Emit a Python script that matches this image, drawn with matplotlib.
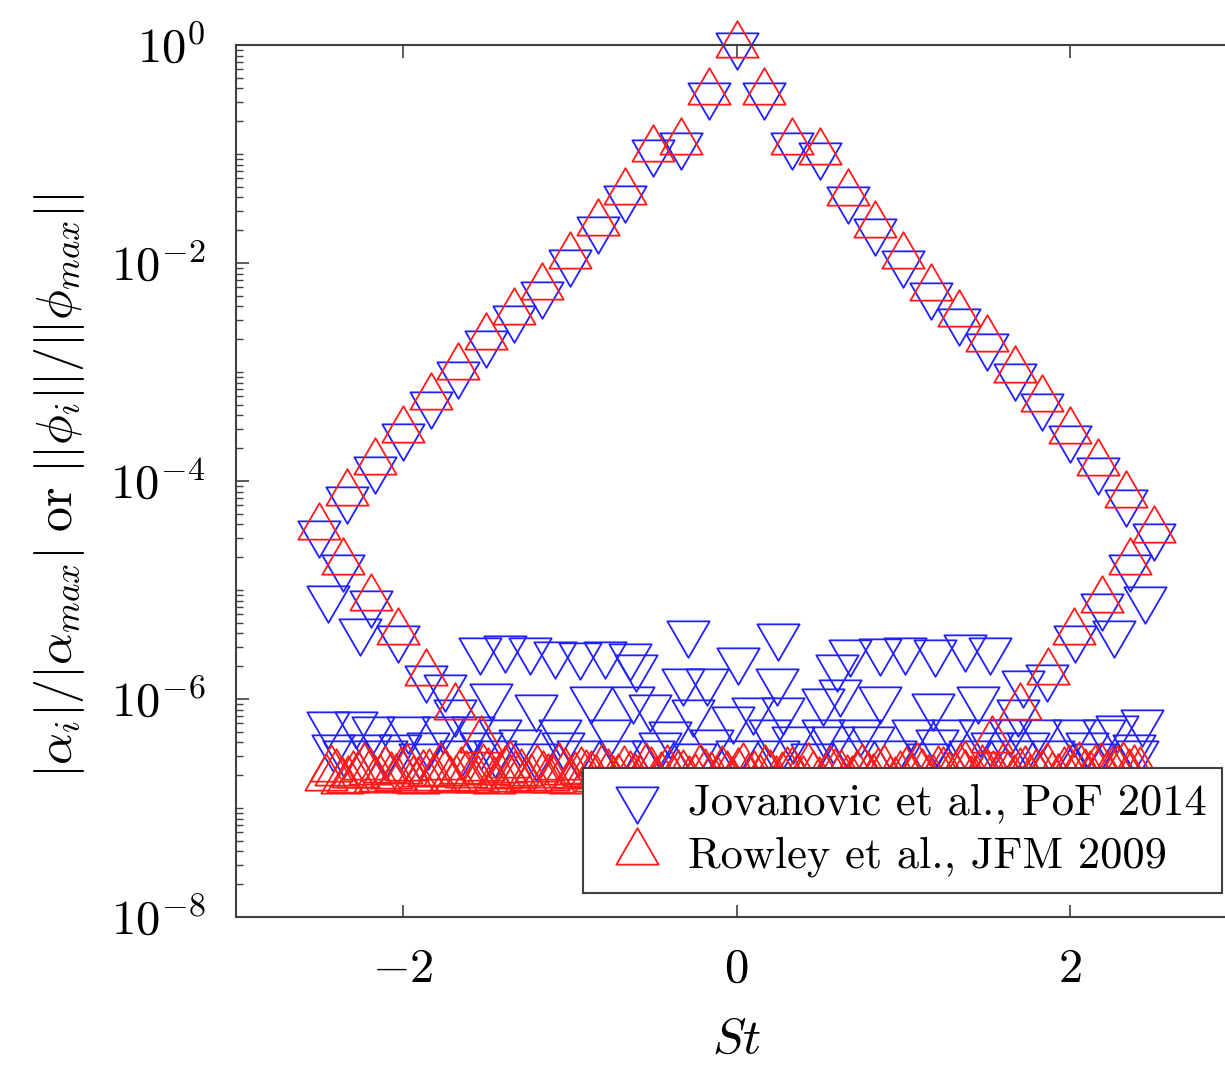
import matplotlib
matplotlib.use('Agg')
import matplotlib.pyplot as plt
from matplotlib.path import Path
from matplotlib.ticker import LogLocator, NullFormatter
import numpy as np

plt.rcParams['mathtext.fontset'] = 'cm'
plt.rcParams['font.family'] = 'serif'
plt.rcParams['font.serif'] = ['cmr10', 'DejaVu Serif']
plt.rcParams['axes.unicode_minus'] = False

# harmonics of the shedding frequency (same St for both data sets)
st_main = [-2.5, -2.333, -2.167, -2.0, -1.833, -1.667, -1.5, -1.333, -1.167, -1.0,
           -0.833, -0.667, -0.5, -0.333, -0.167, 0.0, 0.167, 0.333, 0.5, 0.667,
           0.833, 1.0, 1.167, 1.333, 1.5, 1.667, 1.833, 2.0, 2.167, 2.333, 2.5]
amp_main_rowley = [3.8e-5, 7.8e-5, 1.48e-4, 2.95e-4, 5.9e-4, 1.1e-3, 2.1e-3, 3.55e-3, 6.0e-3, 1.17e-2,
                   2.34e-2, 4.5e-2, 0.112, 0.129, 0.37, 1.0, 0.37, 0.129, 0.105, 0.044,
                   0.0224, 1.15e-2, 5.9e-3, 3.4e-3, 2.0e-3, 1.05e-3, 5.6e-4, 2.9e-4, 1.45e-4, 7.4e-5, 3.55e-5]
amp_main_jov = [3.3e-5, 6.8e-5, 1.29e-4, 2.57e-4, 5.1e-4, 9.6e-4, 1.83e-3, 3.1e-3, 5.2e-3, 1.02e-2,
                2.05e-2, 3.95e-2, 0.105, 0.121, 0.35, 1.0, 0.35, 0.121, 0.098, 0.039,
                0.0196, 1.0e-2, 5.1e-3, 2.95e-3, 1.74e-3, 9.1e-4, 4.9e-4, 2.5e-4, 1.26e-4, 6.4e-5, 3.1e-5]

# aliased (folded) harmonics
st_fold_rowley = [-2.36, -2.19, -2.03, -1.86, -1.69, -1.53, -1.36, 1.37, 1.53, 1.70, 1.87, 2.02, 2.19, 2.36]
amp_fold_rowley = [1.82e-5, 8.5e-6, 4.1e-6, 1.74e-6, 8.5e-7, 4.2e-7, 2.5e-7,
                   2.5e-7, 4.2e-7, 8.5e-7, 1.78e-6, 4.1e-6, 8.1e-6, 1.82e-5]
st_fold_jov = [-2.45, -2.36, -2.26, -2.19, -2.03, -1.86, -1.69, -1.53,
               1.53, 1.69, 1.86, 2.03, 2.19, 2.26, 2.36, 2.45]
amp_fold_jov = [8.5e-6, 1.62e-5, 4.2e-6, 7.6e-6, 3.6e-6, 1.55e-6, 7.6e-7, 3.8e-7,
                3.8e-7, 7.6e-7, 1.58e-6, 3.6e-6, 7.2e-6, 4.0e-6, 1.62e-5, 8.3e-6]

# low-amplitude modes
st_noise_jov = [-1.54, -1.39, -1.24, -1.09, -0.94, -0.79, -0.64, -0.29, 0.25, 0.68, 0.86, 1.01, 1.19, 1.37, 1.52,
                -0.60, -0.32, -0.18, 0.01, 0.24, 0.60, -1.75, 1.72,
                -1.47, -1.20, -0.87, -0.62, -0.52, -0.26, -0.02, 0.10, 0.28, 0.52, 0.62, 0.86, 1.18, 1.45,
                -2.45, -2.28, -2.18, -1.97, -1.76, -1.58, -1.42, -1.06, -0.76, -0.40, 0.20,
                0.52, 0.74, 1.06, 1.30, 1.46, 1.64, 1.82, 2.02, 2.20, 2.28, 2.43,
                -2.42, -2.20, -2.02, -1.85, -1.30, -1.04, -0.46, -0.15, 0.34, 0.58, 0.82, 1.20, 1.75, 2.10, 2.38,
                -2.35, -2.10, -1.90, -1.65, -1.45, -1.20, -0.95, -0.70, -0.50, -0.25, 0.00,
                0.25, 0.45, 0.70, 0.95, 1.15, 1.40, 1.65, 1.90, 2.15, 2.40]
amp_noise_jov = [2.8e-6, 2.95e-6, 2.8e-6, 2.6e-6, 2.55e-6, 2.6e-6, 2.5e-6, 4.0e-6, 3.8e-6, 2.7e-6, 2.75e-6, 2.8e-6, 2.7e-6, 3.0e-6, 2.8e-6,
                 1.95e-6, 1.45e-6, 1.45e-6, 2.3e-6, 1.45e-6, 1.95e-6, 1.3e-6, 1.4e-6,
                 1.07e-6, 8.5e-7, 1.0e-6, 1.0e-6, 8.5e-7, 7.6e-7, 6.6e-7, 7.9e-7, 7.9e-7, 9.5e-7, 1.17e-6, 1.0e-6, 8.7e-7, 1.0e-6,
                 5.9e-7, 5.9e-7, 5.25e-7, 5.25e-7, 5.25e-7, 5.25e-7, 5.0e-7, 5.0e-7, 5.0e-7, 4.8e-7, 5.0e-7,
                 5.0e-7, 5.0e-7, 5.0e-7, 5.0e-7, 5.0e-7, 5.0e-7, 5.0e-7, 5.0e-7, 5.0e-7, 5.4e-7, 6.2e-7,
                 3.6e-7, 3.6e-7, 3.6e-7, 3.8e-7, 4.0e-7, 3.8e-7, 3.8e-7, 4.0e-7, 4.3e-7, 4.3e-7, 4.3e-7, 4.0e-7, 3.8e-7, 3.8e-7, 3.6e-7,
                 3.16e-7, 3.16e-7, 3.0e-7, 3.16e-7, 3.16e-7, 3.0e-7, 3.16e-7, 3.16e-7, 3.16e-7, 3.0e-7, 3.16e-7,
                 3.16e-7, 3.0e-7, 3.16e-7, 3.16e-7, 3.0e-7, 3.16e-7, 3.16e-7, 3.16e-7, 3.0e-7, 3.16e-7]

st_noise_rowley = [-2.46, -2.40, -2.33, -2.27, -2.20, -2.14, -2.07, -2.01, -1.94, -1.88,
                   -1.81, -1.75, -1.68, -1.62, -1.55, -1.49, -1.42, -1.36, -1.29, -1.23,
                   -1.16, -1.10, -1.03, -0.97, -0.90, -0.84, -0.77, -0.71, -0.64, -0.58,
                   -0.51, -0.45, -0.38, -0.32, -0.25, -0.19, -0.12, -0.06, 0.01, 0.07,
                   0.14, 0.20, 0.27, 0.33, 0.40, 0.46, 0.53, 0.59, 0.66, 0.72,
                   0.79, 0.85, 0.92, 0.98, 1.05, 1.11, 1.18, 1.24, 1.31, 1.37,
                   1.44, 1.50, 1.57, 1.63, 1.70, 1.76, 1.83, 1.89, 1.96, 2.02,
                   2.09, 2.15, 2.22, 2.28, 2.35, 2.42]
amp_noise_rowley = [1.9e-7, 2.1e-7, 1.8e-7, 2.0e-7, 2.15e-7, 1.85e-7, 1.95e-7, 2.2e-7, 1.8e-7, 2.05e-7,
                    1.9e-7, 2.1e-7, 1.85e-7, 2.0e-7, 1.8e-7, 2.15e-7, 1.95e-7, 1.85e-7, 2.1e-7, 1.9e-7,
                    2.0e-7, 1.8e-7, 2.15e-7, 1.95e-7, 2.05e-7, 1.85e-7, 2.1e-7, 1.9e-7, 2.0e-7, 1.8e-7,
                    2.2e-7, 1.95e-7, 1.85e-7, 2.05e-7, 1.9e-7, 2.1e-7, 1.8e-7, 2.0e-7, 2.15e-7, 1.9e-7,
                    1.85e-7, 2.05e-7, 1.95e-7, 2.2e-7, 1.8e-7, 2.0e-7, 1.9e-7, 2.1e-7, 1.85e-7, 2.05e-7,
                    1.95e-7, 2.15e-7, 1.8e-7, 2.0e-7, 1.9e-7, 2.1e-7, 1.85e-7, 2.2e-7, 1.95e-7, 2.05e-7,
                    1.8e-7, 2.1e-7, 1.9e-7, 2.0e-7, 2.15e-7, 1.85e-7, 2.05e-7, 1.95e-7, 2.2e-7, 1.9e-7,
                    2.1e-7, 2.3e-7, 2.0e-7, 2.25e-7, 2.1e-7, 2.2e-7]
st_noise_rowley2 = [-2.43, -2.365, -2.30, -2.235, -2.17, -2.105, -2.04, -1.975, -1.91, -1.845,
                    -1.78, -1.715, -1.65, -1.585, -1.52, -1.455, -1.39, -1.325, -1.26, -1.195,
                    -1.13, -1.065, -1.0, -0.935, -0.87, -0.805, -0.74, -0.675, -0.61, -0.545,
                    -0.48, -0.415, -0.35, -0.285, -0.22, -0.155, -0.09, -0.025, 0.04, 0.105,
                    0.17, 0.235, 0.30, 0.365, 0.43, 0.495, 0.56, 0.625, 0.69, 0.755,
                    0.82, 0.885, 0.95, 1.015, 1.08, 1.145, 1.21, 1.275, 1.34, 1.405,
                    1.47, 1.535, 1.60, 1.665, 1.73, 1.795, 1.86, 1.925, 1.99, 2.055,
                    2.12, 2.185, 2.25, 2.315, 2.385]
amp_noise_rowley2 = [2.3e-7, 1.75e-7, 2.0e-7, 2.4e-7, 1.8e-7, 2.25e-7, 1.9e-7, 2.35e-7, 1.75e-7, 2.1e-7,
                     2.4e-7, 1.8e-7, 2.2e-7, 1.9e-7, 2.35e-7, 1.75e-7, 2.25e-7, 2.0e-7, 1.8e-7, 2.3e-7,
                     1.9e-7, 2.4e-7, 1.75e-7, 2.2e-7, 2.0e-7, 2.35e-7, 1.8e-7, 2.25e-7, 1.9e-7, 2.4e-7,
                     1.75e-7, 2.3e-7, 2.05e-7, 1.8e-7, 2.35e-7, 1.95e-7, 2.25e-7, 1.75e-7, 2.4e-7, 2.0e-7,
                     2.3e-7, 1.8e-7, 2.2e-7, 1.9e-7, 2.4e-7, 1.75e-7, 2.25e-7, 2.05e-7, 1.8e-7, 2.35e-7,
                     1.9e-7, 2.3e-7, 1.75e-7, 2.2e-7, 2.4e-7, 1.85e-7, 2.25e-7, 1.95e-7, 2.35e-7, 1.8e-7,
                     2.3e-7, 2.0e-7, 2.4e-7, 1.85e-7, 2.25e-7, 2.1e-7, 2.4e-7, 1.9e-7, 2.3e-7, 2.45e-7,
                     2.0e-7, 2.4e-7, 2.2e-7, 2.45e-7, 2.3e-7]

labels = ['Jovanovic et al., PoF 2014', 'Rowley et al., JFM 2009']
ytick_vals = [1e-8, 1e-6, 1e-4, 1e-2, 1e0]
ytick_labels = [r'$10^{-8}$', r'$10^{-6}$', r'$10^{-4}$', r'$10^{-2}$', r'$10^{0}$']
xtick_vals = [-2, 0, 2]
xtick_labels = [r'$-2$', r'$0$', r'$2$']

# MATLAB-style triangles centred on their centroid
tri_up = Path([(0, 1), (-0.87, -0.5), (0.87, -0.5), (0, 1)],
              [Path.MOVETO, Path.LINETO, Path.LINETO, Path.CLOSEPOLY])
tri_down = Path([(0, -1), (-0.87, 0.5), (0.87, 0.5), (0, -1)],
                [Path.MOVETO, Path.LINETO, Path.LINETO, Path.CLOSEPOLY])

jov_st = np.concatenate([st_main, st_fold_jov, st_noise_jov])
jov_amp = np.concatenate([amp_main_jov, amp_fold_jov, amp_noise_jov])
row_st = np.concatenate([st_main, st_fold_rowley, st_noise_rowley, st_noise_rowley2])
row_amp = np.concatenate([amp_main_rowley, amp_fold_rowley, amp_noise_rowley, amp_noise_rowley2])

fig = plt.figure(figsize=(12.25, 10.65), dpi=100)
ax = fig.add_axes([0.1927, 0.139, 0.8171, 0.8188])

ms = 35
ax.plot(jov_st, jov_amp, linestyle='none', marker=tri_down, ms=ms, mfc='none',
        mec='#2020ff', mew=1.3, clip_on=False, label=labels[0])
ax.plot(row_st, row_amp, linestyle='none', marker=tri_up, ms=ms, mfc='none',
        mec='#ff1a1a', mew=1.3, clip_on=False, label=labels[1])

ax.set_yscale('log')
ax.set_xlim(-3, 3)
ax.set_ylim(1e-8, 1)
ax.set_yticks(ytick_vals, ytick_labels)
ax.yaxis.set_minor_locator(LogLocator(base=10, subs=np.arange(1, 10), numticks=100))
ax.yaxis.set_minor_formatter(NullFormatter())
ax.set_xticks(xtick_vals, xtick_labels)

spine_col = '#404040'
for s in ax.spines.values():
    s.set_color(spine_col)
    s.set_linewidth(1.5)
ax.tick_params(which='both', direction='in', top=True, right=True, color=spine_col)
ax.tick_params(which='major', length=9, width=1.2, labelsize=35)
ax.tick_params(which='minor', length=5, width=1.0)
ax.tick_params(axis='x', pad=22)
ax.tick_params(axis='y', pad=22)

ax.set_xlabel(r'$St$', fontsize=36, va='center')
ax.xaxis.set_label_coords(0.5, -0.141)
ax.set_ylabel(r'$|\alpha_i|/|\alpha_{max}|\ \mathrm{or}\ ||\phi_i||/||\phi_{max}||$',
              fontsize=36, va='center')
ax.yaxis.set_label_coords(-0.176, 0.495)

leg = ax.legend(loc='lower right', bbox_to_anchor=(0.985, 0.0275), borderaxespad=0,
                fontsize=32, fancybox=False, framealpha=1, edgecolor=spine_col,
                handlelength=1.7, handletextpad=0.3, borderpad=0.35, labelspacing=0.3)
leg.get_frame().set_linewidth(1.5)
leg.set_zorder(5)

fig.savefig('out.png', dpi=100)
